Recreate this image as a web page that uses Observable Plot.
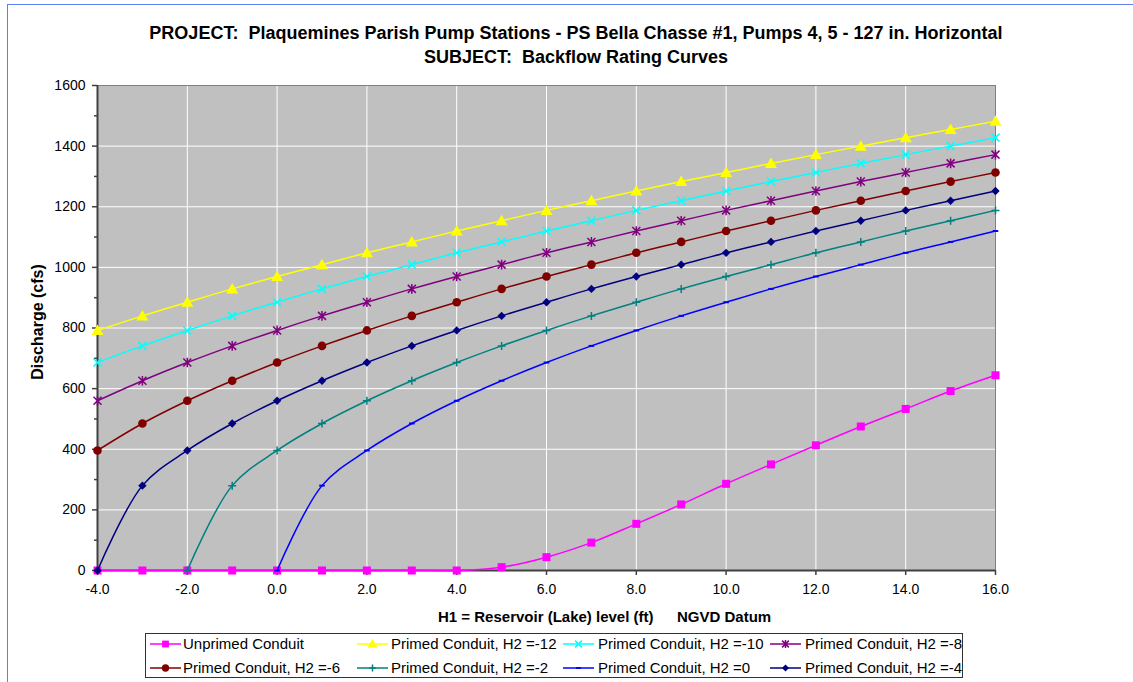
<!DOCTYPE html>
<html>
<head>
<meta charset="utf-8">
<script src="https://cdn.jsdelivr.net/npm/d3@7"></script>
<script src="https://cdn.jsdelivr.net/npm/@observablehq/plot@0.6"></script>
<style>
  html, body { margin: 0; padding: 0; background: #fff; }
  body { font-family: "Liberation Sans", Arial, sans-serif; }
  #wrap { position: relative; width: 1133px; height: 682px; overflow: hidden; background: #fff; }
  #chart { position: absolute; left: 0; top: 0; }
  #border { position: absolute; left: 7px; top: 4px; width: 1300px; height: 800px; border-left: 1px solid #5f7ff0; border-top: 1px solid #5f7ff0; }
  .t { position: absolute; white-space: nowrap; color: #000; font-weight: bold; }
  #legend { position: absolute; left: 145px; top: 633px; width: 818px; height: 45px; border: 1px solid #333; background: #fff; box-sizing: border-box; }
  .li { position: absolute; white-space: nowrap; font-size: 15px; line-height: 16px; color: #000; }
  .ls { position: absolute; }
</style>
</head>
<body>
<div id="wrap">
  <div id="border"></div>
  <div id="chart"></div>
  <div class="t" style="left:0;width:1152px;text-align:center;top:23px;font-size:18px;line-height:20px;">PROJECT:&nbsp; Plaquemines Parish Pump Stations - PS Bella Chasse #1, Pumps 4, 5 - 127 in. Horizontal</div>
  <div class="t" style="left:0;width:1152px;text-align:center;top:47px;font-size:18px;line-height:20px;">SUBJECT:&nbsp; Backflow Rating Curves</div>
  <div class="t" style="left:438px;top:608px;font-size:15px;line-height:18px;">H1 = Reservoir (Lake) level (ft)</div>
  <div class="t" style="left:677px;top:608px;font-size:15px;line-height:18px;">NGVD Datum</div>
  <div class="t" style="left:38px;top:322px;font-size:16px;line-height:18px;transform:translate(-50%,-50%) rotate(-90deg);">Discharge (cfs)</div>
  <div id="legend"></div>
</div>
<script>
// ---- data ----
const H1 = [-4, -3, -2, -1, 0, 1, 2, 3, 4, 5, 6, 7, 8, 9, 10, 11, 12, 13, 14, 15, 16];
const unprimed = [0, 0, 0, 0, 0, 0, 0, 0, 0, 11, 44, 92, 154, 218, 286, 350, 413, 475, 533, 592, 644];
const primedH2m12 = [792, 840, 885, 929, 970, 1009, 1048, 1084, 1120, 1154, 1188, 1220, 1252, 1283, 1313, 1343, 1372, 1400, 1428, 1455, 1482];
const primedH2m10 = [686, 741, 792, 840, 885, 929, 970, 1009, 1048, 1084, 1120, 1154, 1188, 1220, 1252, 1283, 1313, 1343, 1372, 1400, 1428];
const primedH2m8 = [560, 626, 686, 741, 792, 840, 885, 929, 970, 1009, 1048, 1084, 1120, 1154, 1188, 1220, 1252, 1283, 1313, 1343, 1372];
const primedH2m6 = [396, 485, 560, 626, 686, 741, 792, 840, 885, 929, 970, 1009, 1048, 1084, 1120, 1154, 1188, 1220, 1252, 1283, 1313];
const primedH2m2 = [null, null, 0, 280, 396, 485, 560, 626, 686, 741, 792, 840, 885, 929, 970, 1009, 1048, 1084, 1120, 1154, 1188];
const primedH2_0 = [null, null, null, null, 0, 280, 396, 485, 560, 626, 686, 741, 792, 840, 885, 929, 970, 1009, 1048, 1084, 1120];
const primedH2m4 = [0, 280, 396, 485, 560, 626, 686, 741, 792, 840, 885, 929, 970, 1009, 1048, 1084, 1120, 1154, 1188, 1220, 1252];

const seriesNames = ["Unprimed Conduit", "Primed Conduit, H2 =-12", "Primed Conduit, H2 =-10", "Primed Conduit, H2 =-8",
                     "Primed Conduit, H2 =-6", "Primed Conduit, H2 =-2", "Primed Conduit, H2 =0", "Primed Conduit, H2 =-4"];
const seriesValues = [unprimed, primedH2m12, primedH2m10, primedH2m8, primedH2m6, primedH2m2, primedH2_0, primedH2m4];
const seriesColors = ["#ff00ff", "#ffff00", "#00ffff", "#800080", "#800000", "#008080", "#0000ff", "#000080"];

const xTicks = [-4, -2, 0, 2, 4, 6, 8, 10, 12, 14, 16];
const yTicks = [0, 200, 400, 600, 800, 1000, 1200, 1400, 1600];
const yMinor = [100, 300, 500, 700, 900, 1100, 1300, 1500];

// ---- marker shapes ----
const half = (size) => Math.sqrt(size / Math.PI);
const symSquare = { draw(c, size) { const s = half(size); c.rect(-s, -s, 2 * s, 2 * s); } };
const symTriangle = { draw(c, size) { const s = half(size) * 1.2; c.moveTo(0, -s); c.lineTo(s, s * 0.75); c.lineTo(-s, s * 0.75); c.closePath(); } };
const symTimes = { draw(c, size) { const s = half(size); c.moveTo(-s, -s); c.lineTo(s, s); c.moveTo(s, -s); c.lineTo(-s, s); } };
const symAsterisk = { draw(c, size) { const s = half(size); c.moveTo(-s, -s); c.lineTo(s, s); c.moveTo(s, -s); c.lineTo(-s, s); c.moveTo(0, -s * 1.2); c.lineTo(0, s * 1.2); } };
const symCircle = { draw(c, size) { const s = half(size); c.moveTo(s, 0); c.arc(0, 0, s, 0, 2 * Math.PI); } };
const symPlus = { draw(c, size) { const s = half(size); c.moveTo(-s, 0); c.lineTo(s, 0); c.moveTo(0, -s); c.lineTo(0, s); } };
const symDash = { draw(c, size) { const s = half(size); c.rect(-s * 0.7, -1, 1.4 * s, 2); } };
const symDiamond = { draw(c, size) { const s = half(size); c.moveTo(0, -s); c.lineTo(s, 0); c.lineTo(0, s); c.lineTo(-s, 0); c.closePath(); } };

const seriesSymbols = [symSquare, symTriangle, symTimes, symAsterisk, symCircle, symPlus, symDash, symDiamond];
const seriesFilled = [true, true, false, false, true, false, true, true];
const seriesR = [4, 5, 4, 4, 4.3, 4, 4, 4.2];

// ---- build table ----
const rows = [];
seriesNames.forEach((name, si) => {
  seriesValues[si].forEach((v, i) => {
    if (v != null) rows.push({ series: name, idx: si, h1: H1[i], q: v });
  });
});

const lineMarks = seriesNames.map((name, si) =>
  Plot.line(rows.filter(d => d.idx === si), { x: "h1", y: "q", stroke: seriesColors[si], strokeWidth: 1.5, curve: "catmull-rom" })
);
const dotMarks = seriesNames.map((name, si) =>
  Plot.dot(rows.filter(d => d.idx === si), {
    x: "h1", y: "q", r: seriesR[si], symbol: seriesSymbols[si],
    fill: seriesFilled[si] ? seriesColors[si] : "none",
    stroke: seriesFilled[si] ? "none" : seriesColors[si],
    strokeWidth: 1.5
  })
);
const seriesMarks = [];
seriesNames.forEach((n, si) => { seriesMarks.push(lineMarks[si]); seriesMarks.push(dotMarks[si]); });

const chart = Plot.plot({
  width: 1133,
  height: 682,
  marginLeft: 97,
  marginRight: 138,
  marginTop: 85,
  marginBottom: 112,
  x: { domain: [-4, 16] },
  y: { domain: [0, 1600] },
  style: { fontFamily: "'Liberation Sans', Arial, sans-serif", fontSize: "14px", color: "#000", background: "transparent", overflow: "visible" },
  marks: [
    Plot.frame({ fill: "#c0c0c0", stroke: "none" }),
    Plot.gridX(xTicks, { stroke: "#ffffff", strokeOpacity: 1, strokeWidth: 1 }),
    Plot.gridY(yTicks, { stroke: "#ffffff", strokeOpacity: 1, strokeWidth: 1 }),
    Plot.frame({ stroke: "#808080", strokeWidth: 1 }),
    Plot.axisX(xTicks, { tickSize: 5, tickPadding: 9, tickFormat: d => d.toFixed(1), label: null, stroke: "#404040", strokeWidth: 1.5, fontSize: 14 }),
    Plot.axisY(yTicks, { tickSize: 5, tickPadding: 7, tickFormat: d => String(d), label: null, stroke: "#404040", strokeWidth: 1.5, fontSize: 14 }),
    Plot.axisY(yMinor, { tickSize: 3, text: null, label: null, stroke: "#404040", strokeWidth: 1.5 }),
    Plot.ruleX([-4], { stroke: "#404040", strokeWidth: 2 }),
    Plot.ruleY([0], { stroke: "#404040", strokeWidth: 2 }),
    ...seriesMarks
  ]
});
document.getElementById("chart").appendChild(chart);

// ---- legend ----
const legend = d3.select("#legend");
const rowY = [644, 668];
const lineStart = [150, 357, 563, 770];
const textStart = [183, 391, 598, 805];
seriesNames.forEach((name, si) => {
  const row = Math.floor(si / 4), col = si % 4;
  const lx = lineStart[col] - 145 - 1, ty = rowY[row] - 633 - 1;
  const svg = legend.append("svg").attr("class", "ls")
    .attr("width", 32).attr("height", 16)
    .style("left", lx + "px").style("top", (ty - 8) + "px");
  svg.append("line").attr("x1", 0).attr("x2", 31).attr("y1", 8).attr("y2", 8)
    .attr("stroke", seriesColors[si]).attr("stroke-width", 1.5);
  const p = d3.path();
  const r = seriesR[si] * 0.85;
  seriesSymbols[si].draw(p, r * r * Math.PI);
  svg.append("path").attr("d", p.toString()).attr("transform", "translate(15.5,8)")
    .attr("fill", seriesFilled[si] ? seriesColors[si] : "none")
    .attr("stroke", seriesFilled[si] ? "none" : seriesColors[si])
    .attr("stroke-width", 1.5);
  legend.append("div").attr("class", "li")
    .style("left", (textStart[col] - 145 - 1) + "px")
    .style("top", (ty - 8) + "px")
    .text(name);
});
</script>
</body>
</html>
